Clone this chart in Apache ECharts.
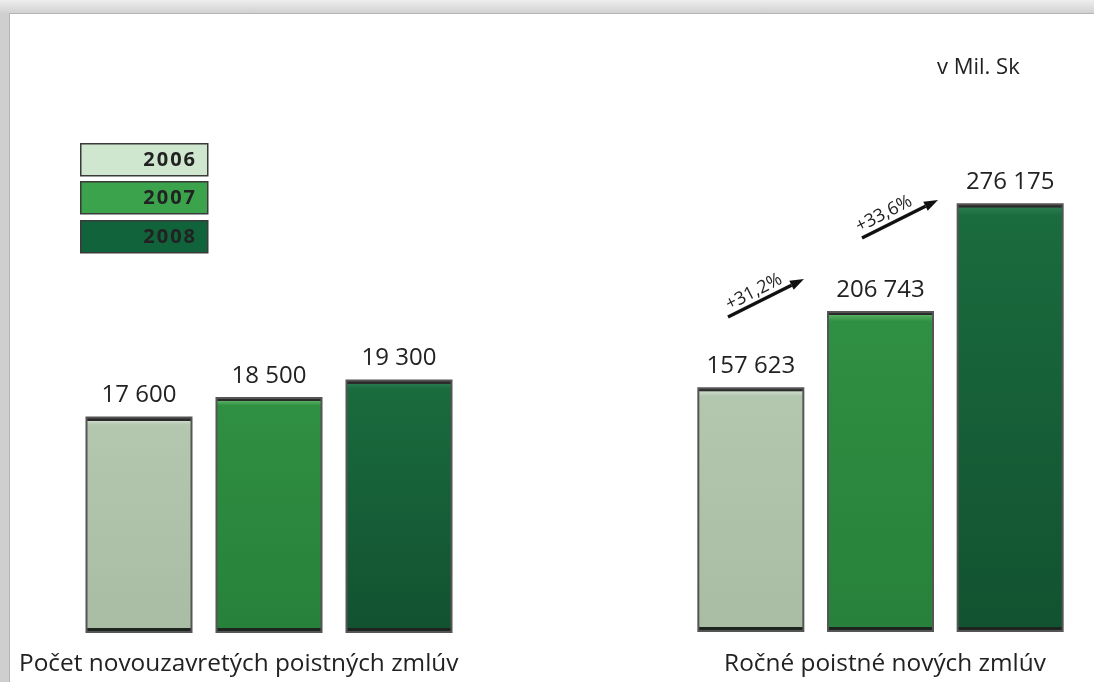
<!DOCTYPE html>
<html>
<head>
<meta charset="utf-8">
<title>poistne zmluvy</title>
<script src="https://cdn.jsdelivr.net/npm/echarts@6/dist/echarts.min.js"></script>
<style>
  body { margin: 0; }
  #frame {
    position: absolute; left: 0; top: 0; width: 1094px; height: 682px;
    background: linear-gradient(#eeeeee, #cfcfcf 14px);
  }
  #paper {
    position: absolute; left: 9px; top: 13px; right: 0; bottom: 0;
    background: #fff; border-left: 1px solid #b5b5b5; border-top: 1px solid #b5b5b5;
  }
  #main { position: absolute; left: 0; top: 0; width: 1094px; height: 682px; }
</style>
</head>
<body>
<div id="frame"><div id="paper"></div></div>
<div id="main"></div>
<script>
// roky (legenda)
var years = ['2006', '2007', '2008'];
// pocet novouzavretych poistnych zmluv
var countValues = [17600, 18500, 19300];
// rocne poistne novych zmluv (v Mil. Sk)
var premiumValues = [157623, 206743, 276175];
// medzirocny rast
var growthLabels = ['+31,2%', '+33,6%'];

var leftTitle = 'Počet novouzavretých poistných zmlúv';
var rightTitle = 'Ročné poistné nových zmlúv';
var unitText = 'v Mil. Sk';

var legendFill = ['#cfe7cf', '#3ba34b', '#10633a'];
var barColors = [
  ['#cddccb', '#b3c6ae', '#a9bca4'],
  ['#55ad60', '#2f8f42', '#27813a'],
  ['#2a7a50', '#1a6b3e', '#125230']
];

var font = '"Open Sans", "Noto Sans", sans-serif';
var plotH = 520;

function fmt(v) {
  return String(v).replace(/\B(?=(\d{3})+(?!\d))/g, ' ');
}

function barData(values, min, max) {
  return values.map(function (v, i) {
    var h = (v - min) / (max - min) * plotH;
    var t = 4 / h, b = 5 / h;
    return {
      value: v,
      itemStyle: {
        color: new echarts.graphic.LinearGradient(0, 0, 0, 1, [
          { offset: 0, color: '#2b2b2b' },
          { offset: t, color: '#2b2b2b' },
          { offset: t + 0.001, color: barColors[i][0] },
          { offset: t + 0.02, color: barColors[i][1] },
          { offset: 1 - b - 0.001, color: barColors[i][2] },
          { offset: 1 - b, color: '#1e241e' },
          { offset: 1, color: '#1e241e' }
        ])
      }
    };
  });
}

var chart = echarts.init(document.getElementById('main'));

var graphics = [];
years.forEach(function (y, i) {
  var top = [143, 181, 220][i];
  graphics.push({
    type: 'rect', left: 80, top: top,
    shape: { width: 127, height: 32 },
    style: { fill: legendFill[i], stroke: '#3a3a3a', lineWidth: 1.5 }
  });
  graphics.push({
    type: 'text', x: 195, y: top + 17,
    style: { text: y.split('').join('\u200a'), font: 'bold 20px ' + font, fill: '#222', align: 'right', verticalAlign: 'middle' }
  });
});
graphics.push({
  type: 'text', left: 937, top: 57,
  style: { text: unitText, font: '22px ' + font, fill: '#222' }
});
// sipky rastu
[[728, 317, 804, 279, 754, 292], [862, 238, 938, 200, 884, 214]].forEach(function (a, i) {
  var ang = Math.atan2(a[3] - a[1], a[2] - a[0]);
  var L = 14, W = 5;
  var bx = a[2] - L * Math.cos(ang), by = a[3] - L * Math.sin(ang);
  graphics.push({
    type: 'line',
    shape: { x1: a[0], y1: a[1], x2: bx, y2: by },
    style: { stroke: '#111', lineWidth: 3.5 }
  });
  graphics.push({
    type: 'polygon',
    shape: { points: [[a[2], a[3]],
      [bx + W * Math.sin(ang), by - W * Math.cos(ang)],
      [bx - W * Math.sin(ang), by + W * Math.cos(ang)]] },
    style: { fill: '#111' }
  });
  graphics.push({
    type: 'text', x: a[4], y: a[5], rotation: 0.47,
    style: { text: growthLabels[i], font: '18px ' + font, fill: '#222', align: 'center', verticalAlign: 'middle' }
  });
});

var labelStyle = {
  show: true, position: 'top', distance: 9,
  fontSize: 24, fontFamily: font, color: '#222',
  formatter: function (p) { return fmt(p.value); }
};

chart.setOption({
  animation: false,
  title: [
    { text: leftTitle, left: 14, top: 647, textStyle: { fontSize: 24.4, fontWeight: 'normal', fontFamily: font, color: '#222' } },
    { text: rightTitle, left: 880, textAlign: 'center', top: 647, textStyle: { fontSize: 24.4, fontWeight: 'normal', fontFamily: font, color: '#222' } }
  ],
  grid: [
    { left: 74, width: 390, top: 112, bottom: 50 },
    { left: 686, width: 389, top: 112, bottom: 50 }
  ],
  xAxis: [
    { type: 'category', gridIndex: 0, data: years, show: false },
    { type: 'category', gridIndex: 1, data: years, show: false }
  ],
  yAxis: [
    { type: 'value', gridIndex: 0, min: 7700, max: 31600, show: false },
    { type: 'value', gridIndex: 1, min: 0, max: 335000, show: false }
  ],
  series: [
    {
      type: 'bar', xAxisIndex: 0, yAxisIndex: 0, barWidth: 107,
      data: barData(countValues, 7700, 31600),
      itemStyle: { borderColor: '#555', borderWidth: 2 },
      label: labelStyle
    },
    {
      type: 'bar', xAxisIndex: 1, yAxisIndex: 1, barWidth: 107,
      data: barData(premiumValues, 0, 335000),
      itemStyle: { borderColor: '#555', borderWidth: 2 },
      label: labelStyle
    }
  ],
  graphic: graphics
});
</script>
</body>
</html>
